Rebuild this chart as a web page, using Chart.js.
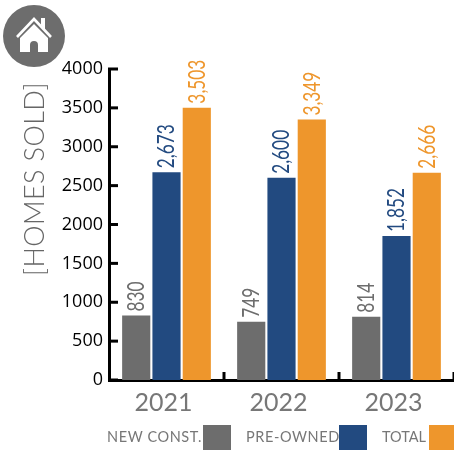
<!DOCTYPE html>
<html>
<head>
<meta charset="utf-8">
<script src="https://cdn.jsdelivr.net/npm/chart.js@4"></script>
<style>
  html, body { margin: 0; padding: 0; background: #fff; overflow: hidden; }
  #wrap { position: relative; width: 454px; height: 451px; overflow: hidden; }
  #home { position: absolute; left: 3px; top: 5px; }
  .key { position: absolute; top: 429px; font: 14.5px Lato, sans-serif; color: #777; letter-spacing: 0.6px; white-space: nowrap; line-height: 16px; }
  .box { position: absolute; top: 425px; height: 25px; width: 28px; }
  #ytitle { position: absolute; left: 33px; top: 179px; transform: translate(-50%, -50%) rotate(-90deg); font: 300 27px Lato, sans-serif; color: #666; white-space: nowrap; letter-spacing: 0.4px; }
</style>
</head>
<body>
<div id="wrap">
  <canvas id="chart" width="454" height="451"></canvas>
  <svg id="home" width="62" height="62" viewBox="0 0 62 62">
    <circle cx="31" cy="31" r="31" fill="#6d6d6d"/>
    <path d="M14 32 L31 14 L48 32" fill="none" stroke="#fff" stroke-width="2.6"/>
    <path d="M38 20 V13 H42 V25 Z" fill="#fff"/>
    <path d="M17 33 L31 19 L45 33 V47 H35 V40 A4 4 0 0 0 27 40 V47 H17 Z" fill="#fff"/>
  </svg>
  <span id="ytitle">[HOMES SOLD]</span>
  <span class="key" style="left:107px">NEW CONST.</span>
  <span class="box" style="left:203px;background:#6d6d6d"></span>
  <span class="key" style="left:246px">PRE-OWNED</span>
  <span class="box" style="left:339px;background:#224a80"></span>
  <span class="key" style="left:382px;letter-spacing:0">TOTAL</span>
  <span class="box" style="left:429px;background:#ee962c"></span>
</div>
<script>
const years = ['2021', '2022', '2023'];
const newConst = [830, 749, 814];
const preOwned = [2673, 2600, 1852];
const total = [3503, 3349, 2666];
const GREY = '#6d6d6d', BLUE = '#224a80', ORANGE = '#ee962c';

// vertical value labels above the bars + inward axis ticks
const marksPlugin = {
  id: 'marks',
  afterDatasetsDraw(chart) {
    const { ctx, scales } = chart;
    const { x, y } = scales;
    ctx.save();

    ctx.strokeStyle = '#000';
    ctx.lineWidth = 3;
    y.ticks.forEach(t => {
      const py = y.getPixelForValue(t.value);
      ctx.beginPath();
      ctx.moveTo(x.left - 1, py);
      ctx.lineTo(x.left + 9, py);
      ctx.stroke();
    });
    const step = (x.right - x.left) / years.length;
    years.forEach((_, i) => {
      const px = x.left + step * (i + 1);
      ctx.beginPath();
      ctx.moveTo(px, y.bottom);
      ctx.lineTo(px, y.bottom - 8);
      ctx.stroke();
    });

    chart.data.datasets.forEach((ds, d) => {
      chart.getDatasetMeta(d).data.forEach((bar, i) => {
        ctx.save();
        ctx.translate(bar.x, bar.y - 4);
        ctx.rotate(-Math.PI / 2);
        ctx.scale(0.72, 1);
        ctx.font = '24px Lato, sans-serif';
        ctx.fillStyle = ds.backgroundColor;
        ctx.textAlign = 'left';
        ctx.textBaseline = 'middle';
        ctx.fillText(ds.data[i].toLocaleString('en-US'), 0, 0);
        ctx.restore();
      });
    });
    ctx.restore();
  },
};

new Chart(document.getElementById('chart'), {
  type: 'bar',
  plugins: [marksPlugin],
  data: {
    labels: years,
    datasets: [
      { label: 'NEW CONST.', data: newConst, backgroundColor: GREY },
      { label: 'PRE-OWNED', data: preOwned, backgroundColor: BLUE },
      { label: 'TOTAL', data: total, backgroundColor: ORANGE },
    ],
  },
  options: {
    animation: false,
    responsive: false,
    categoryPercentage: 0.79,
    barPercentage: 0.93,
    layout: { padding: { left: 0, right: 0, top: 69, bottom: 0 } },
    plugins: {
      legend: { display: false },
      tooltip: { enabled: false },
    },
    scales: {
      x: {
        grid: { display: false, drawTicks: false },
        border: { color: '#000', width: 3 },
        ticks: { color: '#777', font: { family: 'Lato, sans-serif', size: 25 }, padding: 8, labelOffset: -3 },
        afterFit(s) { s.height = 71; },
      },
      y: {
        min: 0,
        max: 4000,
        grid: { display: false, drawTicks: false },
        border: { color: '#000', width: 3 },
        ticks: {
          stepSize: 500,
          color: '#000',
          font: { family: '"Open Sans", sans-serif', size: 18 },
          padding: 6,
          callback: v => String(v),
        },
        afterFit(s) { s.width = 109; },
      },
    },
  },
});
</script>
</body>
</html>
